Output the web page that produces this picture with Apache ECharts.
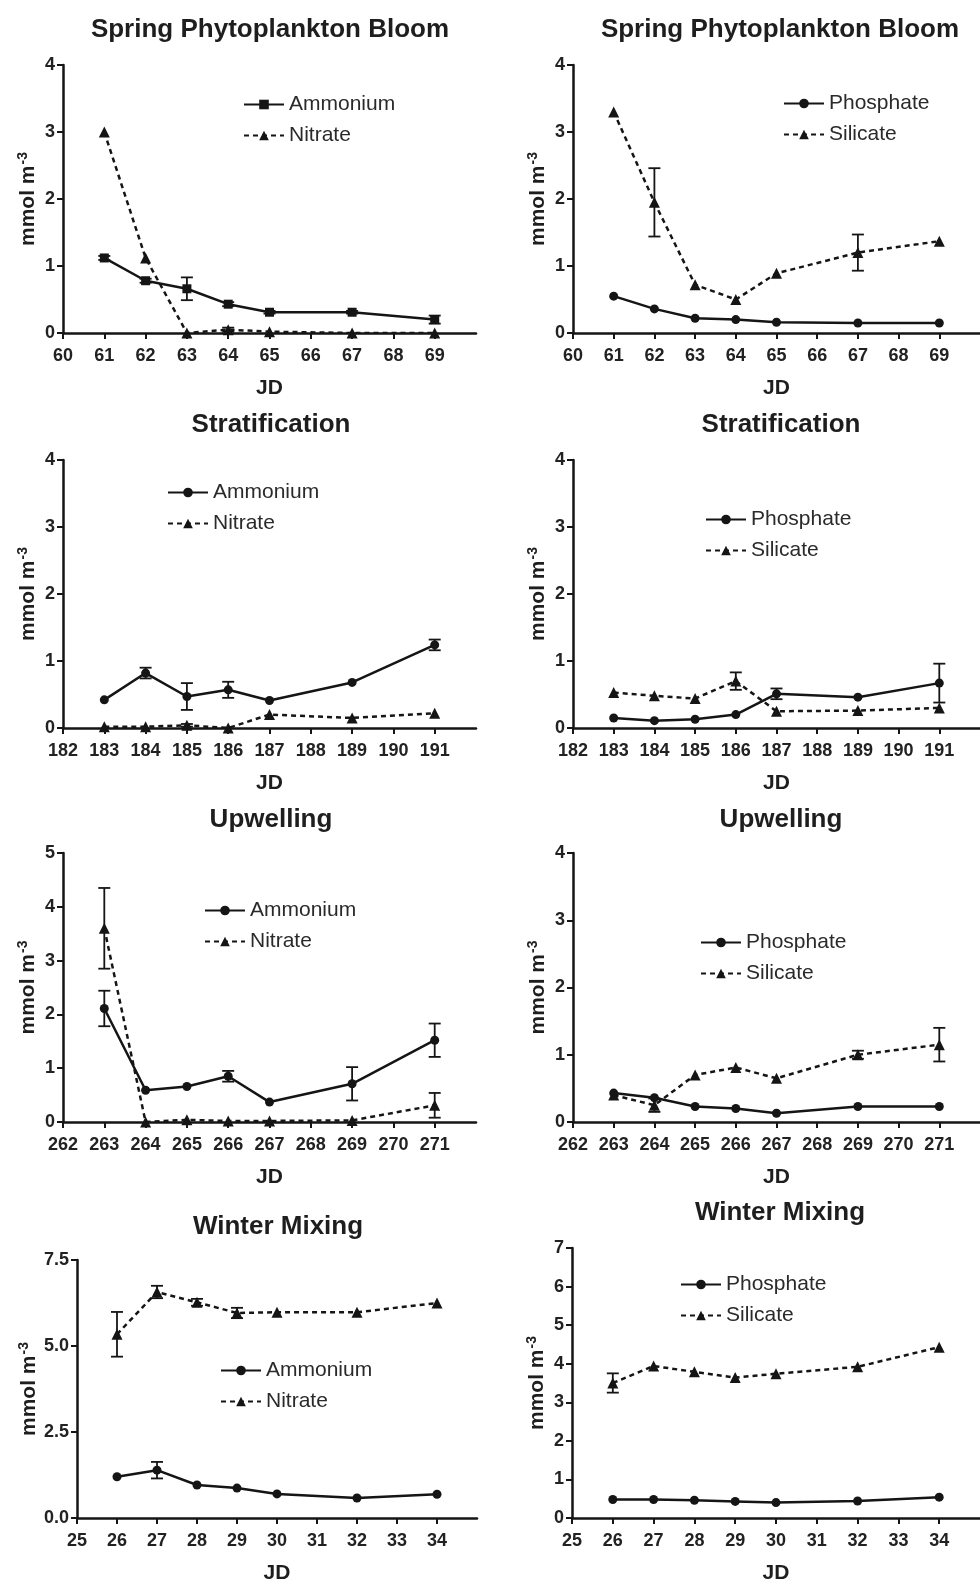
<!DOCTYPE html>
<html><head><meta charset="utf-8">
<script src="https://cdn.jsdelivr.net/npm/echarts@6/dist/echarts.min.js"></script>
<style>html,body{margin:0;padding:0;background:#fff}#c{width:980px;height:1585px}</style>
</head><body><div id="c"></div>
<script>
// ---------------- data ----------------
const springJD = [61, 62, 63, 64, 65, 67, 69];
const springAmmonium = [1.12, 0.78, 0.66, 0.43, 0.31, 0.31, 0.20];
const springAmmoniumErr = [0.03, 0.03, 0.17, 0.03, 0.02, 0.02, 0.06];
const springNitrate = [3.0, 1.12, 0.0, 0.05, 0.02, 0.0, 0.0];
const springNitrateErr = [0, 0, 0, 0.03, 0, 0, 0];
const springPhosphate = [0.55, 0.36, 0.22, 0.20, 0.16, 0.15, 0.15];
const springPhosphateErr = [0, 0, 0, 0, 0, 0, 0];
const springSilicate = [3.3, 1.95, 0.72, 0.50, 0.89, 1.20, 1.37];
const springSilicateErr = [0, 0.51, 0, 0, 0, 0.27, 0];

const stratJD = [183, 184, 185, 186, 187, 189, 191];
const stratAmmonium = [0.42, 0.82, 0.47, 0.57, 0.41, 0.68, 1.24];
const stratAmmoniumErr = [0, 0.08, 0.20, 0.12, 0, 0, 0.08];
const stratNitrate = [0.02, 0.02, 0.04, 0.0, 0.20, 0.15, 0.22];
const stratNitrateErr = [0, 0, 0.02, 0, 0, 0, 0];
const stratPhosphate = [0.15, 0.11, 0.13, 0.20, 0.51, 0.46, 0.67];
const stratPhosphateErr = [0, 0, 0, 0, 0.08, 0, 0.29];
const stratSilicate = [0.53, 0.48, 0.44, 0.70, 0.25, 0.26, 0.30];
const stratSilicateErr = [0, 0, 0, 0.13, 0, 0, 0];

const upJD = [263, 264, 265, 266, 267, 269, 271];
const upAmmonium = [2.11, 0.59, 0.66, 0.85, 0.37, 0.71, 1.52];
const upAmmoniumErr = [0.33, 0, 0, 0.10, 0, 0.31, 0.31];
const upNitrate = [3.6, 0.0, 0.04, 0.02, 0.02, 0.03, 0.31];
const upNitrateErr = [0.75, 0, 0, 0, 0, 0, 0.23];
const upPhosphate = [0.43, 0.36, 0.23, 0.20, 0.13, 0.23, 0.23];
const upPhosphateErr = [0, 0, 0, 0, 0, 0, 0];
const upSilicate = [0.40, 0.25, 0.70, 0.81, 0.65, 1.00, 1.15];
const upSilicateErr = [0, 0.10, 0, 0, 0, 0.06, 0.25];

const winJD = [26, 27, 28, 29, 30, 32, 34];
const winAmmonium = [1.20, 1.39, 0.96, 0.87, 0.70, 0.58, 0.69];
const winAmmoniumErr = [0, 0.24, 0, 0, 0, 0, 0];
const winNitrate = [5.34, 6.57, 6.27, 5.96, 5.98, 5.98, 6.25];
const winNitrateErr = [0.65, 0.18, 0.10, 0.15, 0, 0, 0];
const winPhosphate = [0.48, 0.48, 0.46, 0.43, 0.40, 0.44, 0.54];
const winPhosphateErr = [0, 0, 0, 0, 0, 0, 0];
const winSilicate = [3.50, 3.94, 3.79, 3.64, 3.74, 3.92, 4.43];
const winSilicateErr = [0.25, 0, 0, 0, 0, 0, 0];

// tick labels
const springTicks = [60, 61, 62, 63, 64, 65, 66, 67, 68, 69];
const stratTicks = [182, 183, 184, 185, 186, 187, 188, 189, 190, 191];
const upTicks = [262, 263, 264, 265, 266, 267, 268, 269, 270, 271];
const winTicks = [25, 26, 27, 28, 29, 30, 31, 32, 33, 34];

const titles = ['Spring Phytoplankton Bloom', 'Stratification', 'Upwelling', 'Winter Mixing'];

// ---------------- layout ----------------
const FONT = '"Liberation Sans", Arial, sans-serif';
const INK = '#151515';
const panels = [
  {title: titles[0], tx: 265, ty: 25, grid: {left: 63, top: 65, width: 413, height: 268}, ticks: springTicks, ymax: 4, yint: 1, leg: [243, 94],
   s: [{n: 'Ammonium', x: springJD, y: springAmmonium, e: springAmmoniumErr, sym: 'rect', dash: false},
       {n: 'Nitrate', x: springJD, y: springNitrate, e: springNitrateErr, sym: 'triangle', dash: true}]},
  {title: titles[0], tx: 775, ty: 25, grid: {left: 573, top: 65, width: 413, height: 268}, ticks: springTicks, ymax: 4, yint: 1, leg: [783, 93],
   s: [{n: 'Phosphate', x: springJD, y: springPhosphate, e: springPhosphateErr, sym: 'circle', dash: false},
       {n: 'Silicate', x: springJD, y: springSilicate, e: springSilicateErr, sym: 'triangle', dash: true}]},
  {title: titles[1], tx: 266, ty: 420, grid: {left: 63, top: 460, width: 413, height: 268}, ticks: stratTicks, ymax: 4, yint: 1, leg: [167, 482],
   s: [{n: 'Ammonium', x: stratJD, y: stratAmmonium, e: stratAmmoniumErr, sym: 'circle', dash: false},
       {n: 'Nitrate', x: stratJD, y: stratNitrate, e: stratNitrateErr, sym: 'triangle', dash: true}]},
  {title: titles[1], tx: 776, ty: 420, grid: {left: 573, top: 460, width: 413, height: 268}, ticks: stratTicks, ymax: 4, yint: 1, leg: [705, 509],
   s: [{n: 'Phosphate', x: stratJD, y: stratPhosphate, e: stratPhosphateErr, sym: 'circle', dash: false},
       {n: 'Silicate', x: stratJD, y: stratSilicate, e: stratSilicateErr, sym: 'triangle', dash: true}]},
  {title: titles[2], tx: 266, ty: 815, grid: {left: 63, top: 853, width: 413, height: 269}, ticks: upTicks, ymax: 5, yint: 1, leg: [204, 900],
   s: [{n: 'Ammonium', x: upJD, y: upAmmonium, e: upAmmoniumErr, sym: 'circle', dash: false},
       {n: 'Nitrate', x: upJD, y: upNitrate, e: upNitrateErr, sym: 'triangle', dash: true}]},
  {title: titles[2], tx: 776, ty: 815, grid: {left: 573, top: 853, width: 413, height: 269}, ticks: upTicks, ymax: 4, yint: 1, leg: [700, 932],
   s: [{n: 'Phosphate', x: upJD, y: upPhosphate, e: upPhosphateErr, sym: 'circle', dash: false},
       {n: 'Silicate', x: upJD, y: upSilicate, e: upSilicateErr, sym: 'triangle', dash: true}]},
  {title: titles[3], tx: 273, ty: 1222, grid: {left: 77, top: 1260, width: 400, height: 260}, ticks: winTicks, ymax: 7.5, yint: 2.5, dec: 1, leg: [220, 1360],
   s: [{n: 'Ammonium', x: winJD, y: winAmmonium, e: winAmmoniumErr, sym: 'circle', dash: false},
       {n: 'Nitrate', x: winJD, y: winNitrate, e: winNitrateErr, sym: 'triangle', dash: true}]},
  {title: titles[3], tx: 775, ty: 1208, grid: {left: 572, top: 1248, width: 415, height: 270}, ticks: winTicks, ymax: 7, yint: 1, leg: [680, 1274],
   s: [{n: 'Phosphate', x: winJD, y: winPhosphate, e: winPhosphateErr, sym: 'circle', dash: false},
       {n: 'Silicate', x: winJD, y: winSilicate, e: winSilicateErr, sym: 'triangle', dash: true}]}
];

function renderErr(params, api) {
  const x = api.value(0), y = api.value(1), e = api.value(2);
  const t = api.coord([x, y + e]), b = api.coord([x, y - e]);
  const w = 6;
  const st = {stroke: INK, lineWidth: 1.8};
  return {type: 'group', children: [
    {type: 'line', shape: {x1: t[0], y1: t[1], x2: b[0], y2: b[1]}, style: st},
    {type: 'line', shape: {x1: t[0] - w, y1: t[1], x2: t[0] + w, y2: t[1]}, style: st},
    {type: 'line', shape: {x1: b[0] - w, y1: b[1], x2: b[0] + w, y2: b[1]}, style: st}
  ]};
}

const option = {
  backgroundColor: '#fff', animation: false,
  textStyle: {fontFamily: FONT},
  title: [], grid: [], xAxis: [], yAxis: [], legend: [], series: []
};

panels.forEach((p, i) => {
  option.title.push({text: p.title, left: p.tx, top: p.ty, textAlign: 'center', textVerticalAlign: 'middle',
    textStyle: {fontFamily: FONT, fontSize: 26, fontWeight: 'bold', color: '#1e1e1e'}});
  option.grid.push(Object.assign({containLabel: false}, p.grid));
  const xmin = p.ticks[0], xmax = p.ticks[0] + 10;
  option.xAxis.push({
    gridIndex: i, type: 'value', min: xmin, max: xmax, interval: 1,
    axisLine: {show: true, onZero: true, lineStyle: {color: INK, width: 2.5}},
    axisTick: {show: true, length: 6, lineStyle: {color: INK, width: 2}, customValues: p.ticks},
    axisLabel: {customValues: p.ticks, fontFamily: FONT, fontSize: 18, fontWeight: 'bold', color: '#222', margin: 14},
    splitLine: {show: false},
    name: 'JD', nameLocation: 'middle', nameGap: 45,
    nameTextStyle: {fontFamily: FONT, fontSize: 21, fontWeight: 'bold', color: '#1e1e1e'}
  });
  option.yAxis.push({
    gridIndex: i, type: 'value', min: 0, max: p.ymax, interval: p.yint,
    axisLine: {show: true, lineStyle: {color: INK, width: 2.5}},
    axisTick: {show: true, length: 6, lineStyle: {color: INK, width: 2}},
    axisLabel: {fontFamily: FONT, fontSize: 18, fontWeight: 'bold', color: '#222', margin: 8,
      formatter: v => p.dec ? v.toFixed(p.dec) : String(v)},
    splitLine: {show: false},
    name: 'mmol m{sup|-3}', nameLocation: 'middle', nameGap: 23,
    nameTextStyle: {fontFamily: FONT, fontSize: 21, fontWeight: 'bold', color: '#1e1e1e',
      rich: {sup: {fontFamily: FONT, fontSize: 14, fontWeight: 'bold', color: '#1e1e1e', verticalAlign: 'top', padding: [0, 0, 10, 1]}}}
  });
  const names = [];
  p.s.forEach(s => {
    const nm = s.n + '#' + i;
    names.push(nm);
    option.series.push({
      type: 'line', name: nm, xAxisIndex: i, yAxisIndex: i,
      data: s.x.map((x, k) => [x, s.y[k]]),
      symbol: s.sym, symbolSize: s.sym === 'triangle' ? 11 : 9,
      lineStyle: {color: INK, width: 2.5, type: s.dash ? [5, 4] : 'solid'},
      itemStyle: {color: INK},
      z: 3
    });
    const ed = s.x.map((x, k) => [x, s.y[k], s.e[k]]).filter(d => d[2] > 0);
    if (ed.length) {
      option.series.push({
        type: 'custom', name: nm + 'err', xAxisIndex: i, yAxisIndex: i,
        data: ed, renderItem: renderErr, encode: {x: 0, y: 1}, z: 2, clip: false
      });
    }
  });
  option.legend.push({
    left: p.leg[0], top: p.leg[1], orient: 'vertical', itemGap: 10, itemWidth: 40, itemHeight: 12,
    padding: 0, selectedMode: false, data: names,
    formatter: n => n.split('#')[0],
    textStyle: {fontFamily: FONT, fontSize: 21, color: '#2a2a2a'}
  });
});

const chart = echarts.init(document.getElementById('c'), null, {renderer: 'canvas'});
chart.setOption(option);
</script>
</body></html>
